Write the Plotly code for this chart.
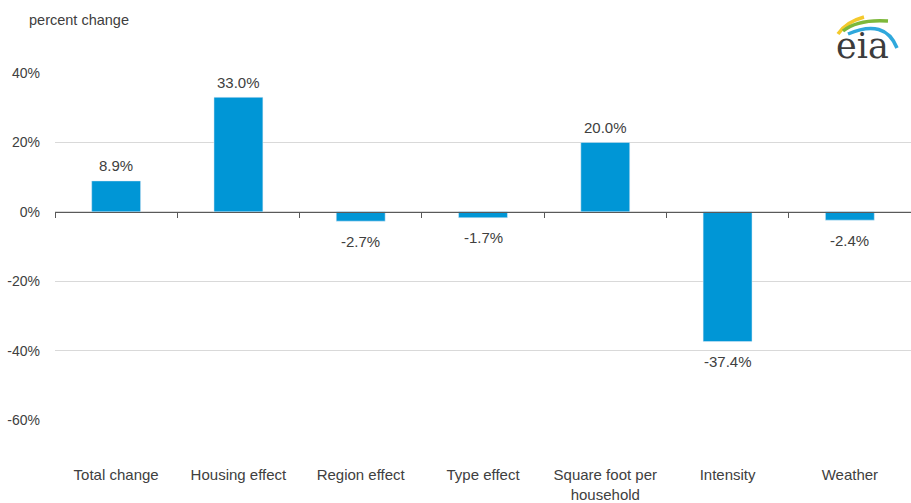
import plotly.graph_objects as go

categories = ["Total change", "Housing effect", "Region effect", "Type effect",
              "Square foot per<br>household", "Intensity", "Weather"]
values = [8.9, 33.0, -2.7, -1.7, 20.0, -37.4, -2.4]
y_ticks = [40, 20, 0, -20, -40, -60]
y_tick_labels = ["40%", "20%", "0%", "-20%", "-40%", "-60%"]

W, H = 911, 503
L, R, T, B = 55, 0, 73, 83
BAR = "#0096D6"
TXT = "#404040"
FONT = "Liberation Sans, Arial, sans-serif"

def px(x, y):
    return (x - L) / (W - L - R), (H - B - y) / (H - T - B)

fig = go.Figure()
fig.add_trace(go.Bar(
    x=categories, y=values, marker_color=BAR, width=0.4,
    hoverinfo="skip", xaxis="x", yaxis="y"))
# invisible trace to carry the zero-line axis
fig.add_trace(go.Scatter(
    x=categories, y=values, mode="markers", marker=dict(opacity=0),
    hoverinfo="skip", xaxis="x2", yaxis="y", showlegend=False))

for c, v in zip(categories, values):
    fig.add_annotation(x=c, y=v, xref="x", yref="y", text=f"{v:.1f}%",
                       showarrow=False, yshift=15 if v >= 0 else -20,
                       font=dict(size=15, color=TXT, family=FONT))

fig.update_layout(
    width=W, height=H, margin=dict(l=L, r=R, t=T, b=B, autoexpand=False),
    paper_bgcolor="white", plot_bgcolor="white", showlegend=False,
    font=dict(family=FONT, size=14, color=TXT),
    xaxis=dict(type="category", categoryarray=categories, range=[-0.5, 6.5],
               showgrid=False, zeroline=False, showline=False, ticks="",
               automargin=False,
               tickfont=dict(size=15, color=TXT), ticklabelstandoff=44),
    xaxis2=dict(type="category", categoryarray=categories, range=[-0.5, 6.5],
                overlaying="x", anchor="free",
                position=(0 - y_ticks[-1]) / (y_ticks[0] - y_ticks[-1]),
                showline=True, linecolor="#595959", linewidth=1.2,
                ticks="outside", tickson="boundaries", ticklen=5, tickcolor="#595959",
                showticklabels=False, showgrid=False, zeroline=False, automargin=False),
    yaxis=dict(range=[y_ticks[-1], y_ticks[0]], tickvals=y_ticks, ticktext=y_tick_labels,
               showgrid=True, gridcolor="#D9D9D9", gridwidth=1, zeroline=False,
               showline=False, ticks="", ticklabelstandoff=14, automargin=False,
               tickfont=dict(size=14, color=TXT)),
)

fig.add_annotation(text="percent change", xref="paper", yref="paper",
                   x=px(27, 0)[0], y=px(0, 20)[1], xanchor="left", yanchor="middle",
                   showarrow=False, font=dict(size=14.5, color=TXT, family=FONT))

# eia logo
lx, ly = px(862, 46)
fig.add_annotation(text="eia", xref="paper", yref="paper", x=lx, y=ly,
                   xanchor="center", yanchor="middle", showarrow=False,
                   font=dict(size=35, color="#3C3C3C", family="DejaVu Serif, Liberation Serif, serif"))

def arc(p0, c, p1, color, w):
    a = px(*p0); b = px(*c); d = px(*p1)
    fig.add_shape(type="path", xref="paper", yref="paper",
                  path=f"M {a[0]},{a[1]} Q {b[0]},{b[1]} {d[0]},{d[1]}",
                  line=dict(color=color, width=w))

arc((838, 34), (846, 22), (864, 17), "#F4C92B", 3.5)
arc((843, 31), (858, 19), (888, 21), "#7DB83A", 3.5)
arc((848, 34), (885, 18), (897, 48), "#2FA8DC", 3.5)

fig.write_html("out.html")
